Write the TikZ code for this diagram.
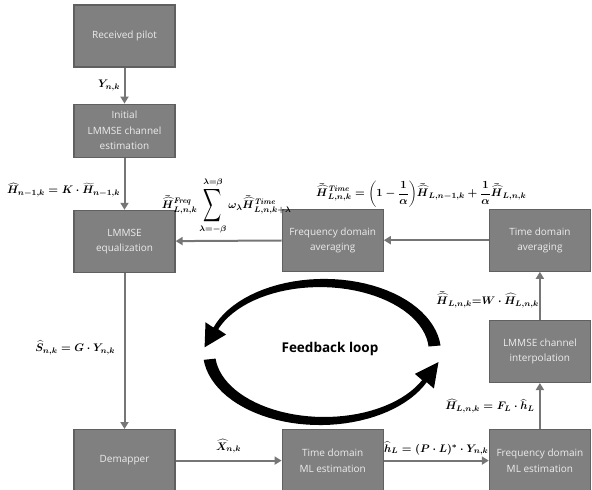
\documentclass[tikz,border=0pt]{standalone}
\usepackage{amsmath}
\usepackage[no-math]{fontspec}
\newfontfamily\boxfont{Open Sans}
\usetikzlibrary{arrows.meta, positioning}

\definecolor{boxgray}{RGB}{128,128,128}
\definecolor{boxedge}{RGB}{96,96,96}
\definecolor{arrgray}{RGB}{118,118,118}
\definecolor{boxtext}{RGB}{236,236,236}

\newcommand{\Hbh}{{\vphantom{H}\smash{\bar{\widehat{H}}}}}
\newcommand{\tallsum}{\mathop{\vcenter{\hbox{\scalebox{1.15}[2.1]{$\displaystyle\sum$}}}}\limits}

\begin{document}
\begin{tikzpicture}[x=1pt, y=1pt,
  box/.style={rectangle, draw=boxedge, line width=1.2pt, fill=boxgray,
              minimum width=101pt, minimum height=62pt, inner sep=0pt,
              align=center, text=boxtext, font=\boxfont\fontsize{10}{15.5}\selectfont},
  arr/.style={-{Triangle[length=7pt, width=8pt]}, draw=arrgray, line width=2pt},
  lbl/.style={font=\fontsize{10.8}{13}\selectfont\boldmath, text=black},
  loop/.style={fill=black}
]
  \useasboundingbox (0,0) rectangle (592,-490);

  \node[box] (rp) at (124.5,-36) {Received pilot};
  \node[box, minimum height=53pt, below=36pt of rp] (init) {Initial\\LMMSE channel\\estimation};
  \node[box, below=52pt of init]  (eq)     {LMMSE\\equalization};
  \node[box, below=156pt of eq]   (demap)  {Demapper};
  \node[box, right=106pt of demap] (tml)   {Time domain\\ML estimation};
  \node[box, right=105pt of tml]  (fml)    {Frequency domain\\ML estimation};
  \node[box, above=46pt of fml]   (interp) {LMMSE channel\\interpolation};
  \node[box, above=48pt of interp] (tavg)  {Time domain\\averaging};
  \node[box, left=105pt of tavg]  (favg)   {Frequency domain\\averaging};

  \draw[arr] (rp)    -- node[lbl, left]{$Y_{n,k}$} (init);
  \draw[arr] (init)  -- node[lbl, left, pos=0.62]{$\widehat{H}_{n-1,k} = K\cdot\widetilde{H}_{n-1,k}$} (eq);
  \draw[arr] (favg)  -- node[lbl, above, xshift=-2pt, yshift=2pt]{$\displaystyle\Hbh^{\mathit{Freq}}_{L,n,k}\tallsum_{\lambda=-\beta}^{\lambda=\beta}\omega_{\lambda}\Hbh^{\mathit{Time}}_{L,n,k+\lambda}$} (eq);
  \draw[arr] (tavg)  -- node[lbl, above, xshift=-15pt, yshift=29pt]{$\displaystyle\Hbh^{\mathit{Time}}_{L,n,k}=\biggl(1-\frac{1}{\alpha}\biggr)\Hbh_{L,n-1,k}+\frac{1}{\alpha}\Hbh_{L,n,k}$} (favg);
  \draw[arr] (eq)    -- node[lbl, left, xshift=-5pt, pos=0.48]{$\widehat{S}_{n,k} = G\cdot Y_{n,k}$} (demap);
  \draw[arr] (demap) -- node[lbl, above, yshift=3pt]{$\widehat{X}_{n,k}$} (tml);
  \draw[arr] (tml)   -- node[lbl, above, yshift=1pt]{$\widehat{h}_L = (P\cdot L)^{*}\cdot Y_{n,k}$} (fml);
  \draw[arr] (fml)   -- node[lbl, left, xshift=-1pt]{$\widehat{H}_{L,n,k} = F_L\cdot\widehat{h}_L$} (interp);
  \draw[arr] (interp) -- node[lbl, left, inner sep=0pt, pos=0.4]{$\Hbh_{L,n,k}{=}W\cdot\widehat{H}_{L,n,k}$} (tavg);

  % feedback loop
  \node[font=\boxfont\bfseries\fontsize{13.5}{16}\selectfont] (fb) at (330,-349) {Feedback loop};
  \fill[loop] plot[domain=5:160, samples=40] ({322+(119-3.5*(\x-5)/155)*cos(\x)}, {-352+(75-3.5*(\x-5)/155)*sin(\x)})
    -- (205.5,-322.3) -- (204.6,-347.3) -- (226.1,-334.5)
    -- plot[domain=160:5, samples=40] ({322+(107+3.5*(\x-5)/155)*cos(\x)}, {-352+(63+3.5*(\x-5)/155)*sin(\x)}) -- cycle;
  \fill[loop] plot[domain=186:335, samples=40] ({322+(119-3.5*(\x-186)/149)*cos(\x)}, {-352+(75-3.5*(\x-186)/149)*sin(\x)})
    -- (433.9,-388.5) -- (438.5,-362) -- (414.9,-373.9)
    -- plot[domain=335:186, samples=40] ({322+(107+3.5*(\x-186)/149)*cos(\x)}, {-352+(63+3.5*(\x-186)/149)*sin(\x)}) -- cycle;
\end{tikzpicture}
\end{document}
